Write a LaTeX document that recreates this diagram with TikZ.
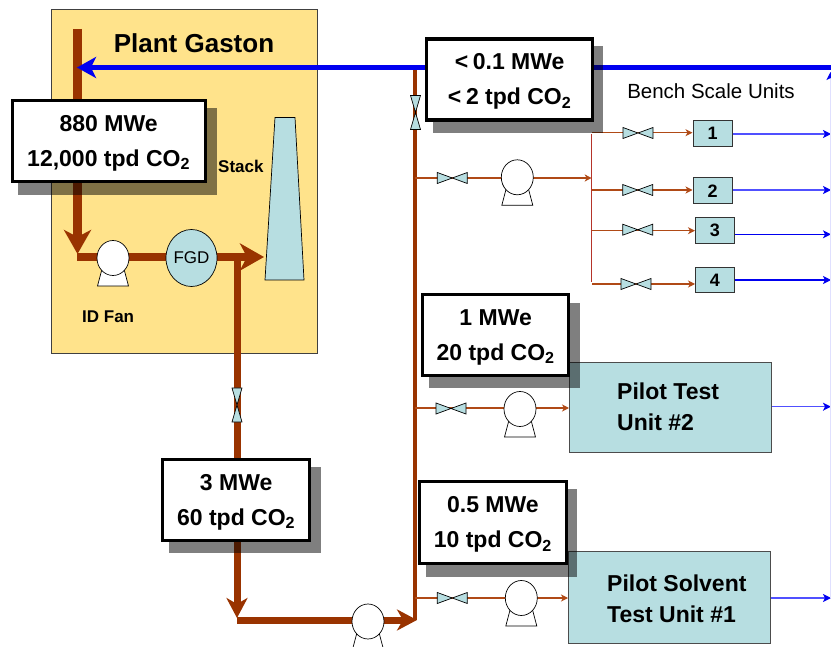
\documentclass[tikz,border=0pt]{standalone}
\usepackage{fontspec}
\setmainfont{Liberation Sans}
\usetikzlibrary{arrows.meta,shapes.geometric}
\definecolor{pipe}{HTML}{993300}
\definecolor{thinpipe}{HTML}{B04A16}
\definecolor{buscol}{HTML}{B5342A}
\definecolor{plant}{HTML}{FFE38B}
\definecolor{aqua}{HTML}{B7DEE1}
\definecolor{flow}{HTML}{0000F0}
\definecolor{paleflow}{HTML}{5050FF}
\definecolor{edgeflow}{HTML}{E0E0FF}
\newcommand{\topstrut}{\rule{0pt}{20pt}}
\tikzset{
 x=1pt,y=-1pt,
 fat/.style={draw=pipe,line width=8.2pt},
 fatarrow/.style={fat,-{Stealth[length=24pt,width=27pt,inset=7pt]}},
 lowarrow/.style={draw=pipe,line width=7pt,-{Stealth[length=20pt,width=21pt,inset=6pt]}},
 thinp/.style={draw=thinpipe,line width=1.1pt},
 thinarrow/.style={thinp,-{Stealth[length=7pt,width=7pt,inset=2pt]}},
 bluearrow/.style={draw=flow,line width=1.2pt,-{Stealth[length=8pt,width=8pt,inset=2pt]}},
 palearrow/.style={draw=paleflow,line width=1.4pt,-{Stealth[length=8pt,width=8pt,inset=2pt,color=flow]}},
 label box/.style={draw=black,fill=white,line width=3.3pt,inner sep=0pt,align=center,font=\bfseries\fontsize{23}{35}\selectfont,anchor=north west,minimum height=81pt},
 unit/.style={draw=black!80,fill=aqua,line width=1pt,inner sep=0pt,anchor=north west,minimum width=39pt,minimum height=25.5pt,font=\bfseries\fontsize{18}{20}\selectfont},
 pilot/.style={draw=black!70,fill=aqua,line width=1pt,inner sep=0pt,anchor=north west},
 pilottext/.style={inner sep=0pt,anchor=west,font=\bfseries\fontsize{23}{25}\selectfont},
 valveshape/.style={draw=black,fill=aqua,line width=.7pt},
 shadow box/.style={fill=black,opacity=.5,draw=none},
 txt/.style={inner sep=0pt,font=\bfseries\fontsize{17}{20}\selectfont},
}
\newcommand{\hvalve}[2]{\draw[valveshape] (#1-15,#2-5.5)--(#1+15,#2+5.5)--(#1+15,#2-5.5)--(#1-15,#2+5.5)--cycle;}
\newcommand{\vvalve}[2]{\draw[valveshape] (#1-5,#2-17)--(#1+5,#2+17)--(#1-5,#2+17)--(#1+5,#2-17)--cycle;}
\newcommand{\pumpat}[2]{\draw[draw=black,fill=white,line width=.7pt] (#1-11,#2+11)--(#1-15.5,#2+28)--(#1+15.5,#2+28)--(#1+11,#2+11)--cycle;
 \draw[draw=black,fill=white,line width=.7pt] (#1,#2) ellipse [x radius=16pt,y radius=17.5pt];}
\begin{document}
\begin{tikzpicture}
\useasboundingbox (0,0) rectangle (831,647);
% plant
\draw[draw=black!75,fill=plant,line width=.8pt] (51,9) rectangle (317,353);
\node[font=\bfseries\fontsize{26}{30}\selectfont,inner sep=0pt] (title) at (194,43) {Plant Gaston};
% coordinates
\coordinate (ptop) at (77.5,29);
\coordinate (pfoot) at (77.5,254);
\coordinate (pbend) at (77,257);
\coordinate (stackin) at (264,257);
\coordinate (branch) at (237,257);
\coordinate (lowfoot) at (237,618);
\coordinate (lowbend) at (237,620);
\coordinate (main) at (417,620);
\coordinate (maintop) at (415,68);
\coordinate (mainlow) at (415,620);
\coordinate (headL) at (77,67.5);
\coordinate (headR) at (831,67.5);
% fat pipes
\draw[fatarrow] (ptop)--(pfoot);
\draw[fatarrow] (pbend)--(stackin);
\draw[draw=pipe,line width=7pt] (branch)--(237,600);
\draw[lowarrow] (237,590)--(lowfoot);
\draw[lowarrow] (lowbend)--(main);
\draw[draw=pipe,line width=4.5pt] (mainlow)--(maintop);
% blue header
\draw[draw=flow,line width=5.6pt,-{Stealth[length=19pt,width=21pt,inset=5pt]}] (headR)--(headL);
% stack
\draw[draw=black,fill=aqua,line width=.7pt] (275,117.5)--(295,117.5)--(304,280)--(265,280)--cycle;
\node[txt,anchor=west] (stacklab) at (218,166) {Stack};
\node[txt,anchor=west] (idfan) at (82,317) {ID Fan};
% gaston pump / FGD
\pumpat{113}{258}
\node[ellipse,draw=black,fill=aqua,line width=.7pt,inner sep=0pt,minimum width=51pt,minimum height=57pt,font=\fontsize{17}{18}\selectfont] (fgd) at (191.5,258) {FGD};
\vvalve{237}{405}
\vvalve{415.5}{112.5}
\pumpat{368}{621.5}
% bench
\node[unit] (u1) at (692.5,120.5) {1};
\node[unit] (u2) at (692.5,177.5) {2};
\node[unit] (u3) at (695,217.5) {3};
\node[unit] (u4) at (695,267) {4};
\draw[draw=buscol,line width=.9pt] (591.7,134)--(591.7,282);
\coordinate (bus1) at (591.7,178);
\draw[thinp] (415,178)--(530,178);
\draw[thinarrow] (530,178)--(bus1);
\hvalve{452.3}{178}
\pumpat{517.3}{177.3}
\draw[thinarrow] (592,132.7)--(u1.west |- 0,132.7);
\draw[thinarrow] (592,190)--(u2.west |- 0,190);
\draw[thinarrow] (592,230.7)--(u3.west |- 0,230.7);
\draw[thinarrow] (592,284)--(u4.west |- 0,284);
\hvalve{638}{133}\hvalve{637.7}{190}\hvalve{637.7}{229.7}\hvalve{636}{284}
\draw[palearrow] (u1.east |- 0,134)--(831,134);
\draw[palearrow] (u2.east |- 0,190)--(831,190);
\draw[bluearrow] (u3.east |- 0,234.3)--(831,234.3);
\draw[bluearrow] (u4.east |- 0,280)--(831,280);
\node[inner sep=0pt,font=\fontsize{20.5}{24}\selectfont] (bench) at (711,91) {Bench Scale Units};
% pilots
\node[pilot,minimum width=202pt,minimum height=90pt] (p2) at (569,362) {};
\node[pilot,minimum width=202pt,minimum height=92pt] (p1) at (568,551) {};
\node[pilottext] (p2a) at (617,391) {Pilot Test};
\node[pilottext] (p2b) at (617,422) {Unit \#2};
\node[pilottext] (p1a) at (607,583) {Pilot Solvent};
\node[pilottext] (p1b) at (607,614) {Test Unit \#1};
\draw[thinarrow] (415,408)--(p2.west |- 0,408);
\hvalve{451}{408.5}
\pumpat{520}{409}
\draw[thinarrow] (415,598)--(p1.west |- 0,598);
\hvalve{452.3}{598}
\pumpat{521.3}{598}
\draw[palearrow] (p2.east |- 0,406.7)--(831,406.7);
\draw[palearrow] (p1.east |- 0,598)--(831,598);
\draw[draw=edgeflow,line width=1pt,-{Stealth[length=8pt,width=8pt,inset=2pt,color=flow]}] (830.5,598)--(830.5,72);
% shadows
\fill[shadow box] (18,108) rectangle (217,195);
\fill[shadow box] (433,46) rectangle (603,133);
\fill[shadow box] (429,303) rectangle (580,388);
\fill[shadow box] (169,467) rectangle (321,553);
\fill[shadow box] (426,489) rectangle (577,577);
% label boxes
\node[label box,minimum width=193pt] (b880) at (10.5,99) {\topstrut 880 MWe\\12,000 tpd CO\textsubscript{2}};
\node[label box,minimum width=166pt] (b01) at (425,37.5) {\topstrut <\hspace{.2em}0.1 MWe\\<\hspace{.2em}2 tpd CO\textsubscript{2}};
\node[label box,minimum width=146pt] (b1) at (421,293) {\topstrut 1 MWe\\20 tpd CO\textsubscript{2}};
\node[label box,minimum width=147pt] (b3) at (161,458) {\topstrut 3 MWe\\60 tpd CO\textsubscript{2}};
\node[label box,minimum width=146.5pt,minimum height=82pt] (b05) at (418,480) {\topstrut 0.5 MWe\\10 tpd CO\textsubscript{2}};
\end{tikzpicture}
\end{document}
